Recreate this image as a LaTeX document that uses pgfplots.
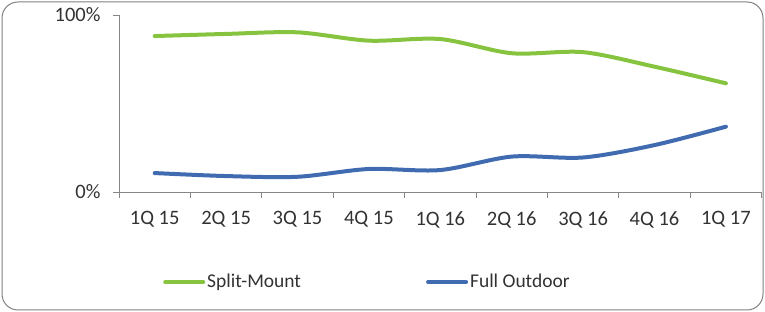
\documentclass[border=0pt]{standalone}
\usepackage{pgfplots}
\pgfplotsset{compat=1.18}
\usepackage{fontspec}
\setmainfont{Carlito}
\definecolor{smgreen}{RGB}{134,196,64}
\definecolor{foblue}{RGB}{64,107,176}
\definecolor{axgray}{RGB}{134,134,134}
\definecolor{txt}{RGB}{50,50,50}
\definecolor{frame}{RGB}{128,128,128}
\begin{document}
\begin{tikzpicture}[x=1pt,y=1pt]
\useasboundingbox (0,0) rectangle (765,312);
\draw[frame, line width=1pt, rounded corners=16pt] (2,2) rectangle (763,310);
\begin{axis}[
  at={(119pt,120pt)}, anchor=south west,
  scale only axis, width=642.6pt, height=177pt,
  xmin=0, xmax=9, ymin=0, ymax=100,
  axis x line*=bottom, axis y line*=left,
  axis line style={axgray, line width=0.8pt, -},
  clip=false,
  xtick={0.5,1.5,...,8.5},
  xticklabels={1Q 15,2Q 15,3Q 15,4Q 15,1Q 16,2Q 16,3Q 16,4Q 16,1Q 17},
  minor xtick={0,1,...,9},
  major x tick style={draw=none},
  minor tick length=6pt,
  tick align=outside,
  tick style={axgray, line width=0.8pt},
  ytick={0,100}, yticklabels={0\%,100\%},
  major tick length=6pt,
  ticklabel style={font=\fontsize{20.5}{24}\selectfont, text=txt},
  xticklabel style={yshift=-10pt},
  yticklabel style={xshift=-9pt},
  /pgf/number format/assume math mode=true,
  legend columns=2,
  legend style={at={(axis description cs:0.0685,-0.508)}, anchor=west, draw=none, fill=none,
    font=\fontsize{19.5}{23}\selectfont, text=txt, inner sep=0pt,
    /tikz/every even column/.append style={column sep=123pt}},
  legend image code/.code={\draw[#1, line width=4pt, line cap=round] (0pt,0pt) -- (38pt,0pt);},
]
\addplot[smgreen, line width=4pt, smooth, tension=0.5, line cap=round] coordinates {
 (0.5,88.1) (1.5,89.3) (2.5,90.2) (3.5,85.5) (4.5,86.4) (5.5,78.4) (6.5,79) (7.5,70.8) (8.5,61.4)};
\addlegendentry{Split-Mount}
\addplot[foblue, line width=4pt, smooth, tension=0.5, line cap=round] coordinates {
 (0.5,10.7) (1.5,9) (2.5,8.6) (3.5,13) (4.5,12.4) (5.5,20) (6.5,19.5) (7.5,26.5) (8.5,36.9)};
\addlegendentry{Full Outdoor}
\end{axis}
\end{tikzpicture}
\end{document}
